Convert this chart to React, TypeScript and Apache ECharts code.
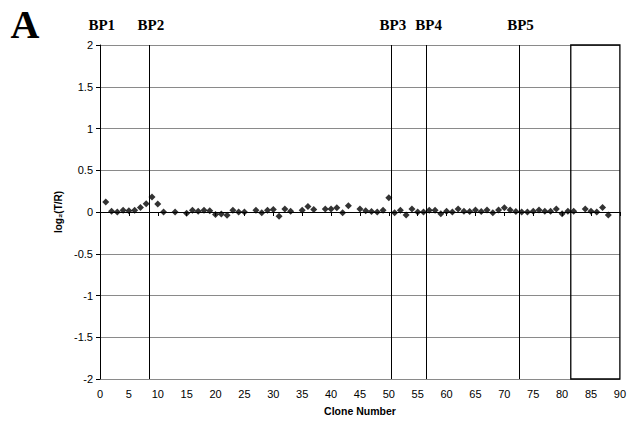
import React, { useEffect, useRef } from "react";
import * as echarts from "echarts";

// Clone index and log2(T/R) ratio for each measured clone
const clones = [
  1, 2, 3, 4, 5, 6, 7, 8, 9, 10, 11, 13, 15, 16, 17, 18, 19, 20, 21, 22, 23, 24, 25,
  27, 28, 29, 30, 31, 32, 33, 35, 36, 37, 39, 40, 41, 42, 43, 45, 46, 47, 48, 49, 50,
  51, 52, 53, 54, 55, 56, 57, 58, 59, 60, 61, 62, 63, 64, 65, 66, 67, 68, 69, 70, 71,
  72, 73, 74, 75, 76, 77, 78, 79, 80, 81, 82, 84, 85, 86, 87, 88,
];
const ratios = [
  0.12, 0.01, 0, 0.02, 0.015, 0.02, 0.055, 0.1, 0.18, 0.095, 0, 0, -0.015, 0.02, 0.01,
  0.02, 0.015, -0.03, -0.025, -0.04, 0.02, 0, 0, 0.02, -0.01, 0.02, 0.03, -0.05, 0.035,
  0.01, 0.02, 0.065, 0.03, 0.035, 0.035, 0.05, -0.01, 0.075, 0.035, 0.015, 0.005, 0,
  0.02, 0.17, -0.01, 0.02, -0.035, 0.035, 0, 0, 0.02, 0.02, -0.02, 0.01, 0, 0.035, 0.01,
  0.005, 0.025, 0.005, 0.025, -0.01, 0.025, 0.05, 0.025, 0.005, 0, 0, 0.01, 0.025, 0.01,
  0.01, 0.035, -0.02, 0.01, 0.01, 0.035, 0.01, 0, 0.055, -0.035,
];

// Breakpoint boundaries (between clones) and their labels
const breakpointNames = ["BP1", "BP2", "BP3", "BP4", "BP5"];
const breakpointLabelAt = [0.3, 8.8, 50.7, 56.9, 72.8];
const breakpointLines = [8.5, 50.5, 56.5, 72.5];
const boxedRegion = [81.5, 90];

export default function App() {
  const ref = useRef<HTMLDivElement>(null);

  useEffect(() => {
    if (!ref.current) return;
    const chart = echarts.init(ref.current, null, { renderer: "svg" });
    const sans = "Liberation Sans";

    chart.setOption({
      animation: false,
      backgroundColor: "#fff",
      grid: { left: 100, right: 7, top: 45, bottom: 46 },
      xAxis: {
        type: "value",
        min: 0,
        max: 90,
        interval: 5,
        name: "Clone Number",
        nameLocation: "middle",
        nameGap: 26,
        nameTextStyle: { fontFamily: sans, fontWeight: "bold", fontSize: 10.5, color: "#000" },
        axisLine: { show: true, lineStyle: { color: "#000", width: 1 } },
        axisTick: { show: true, length: 4, lineStyle: { color: "#000" } },
        axisLabel: { fontFamily: sans, fontSize: 11, color: "#000", margin: 9 },
        splitLine: { show: false },
      },
      yAxis: {
        type: "value",
        min: -2,
        max: 2,
        interval: 0.5,
        name: "log₂(T/R)",
        nameLocation: "middle",
        nameGap: 31,
        nameRotate: 90,
        nameTextStyle: { fontFamily: sans, fontWeight: "bold", fontSize: 10, color: "#000" },
        axisLine: { show: true, onZero: false, lineStyle: { color: "#000", width: 1 } },
        axisTick: { show: true, length: 4, lineStyle: { color: "#000" } },
        axisLabel: { fontFamily: sans, fontSize: 11, color: "#000", margin: 7 },
        splitLine: { show: true, lineStyle: { color: "#8a8a8a", width: 1 } },
      },
      series: [
        {
          type: "scatter",
          symbol: "diamond",
          symbolSize: 7,
          itemStyle: { color: "#000" },
          data: clones.map((c, i) => [c, ratios[i]]),
          markLine: {
            silent: true,
            symbol: "none",
            label: { show: false },
            lineStyle: { color: "#000", width: 1, type: "solid" },
            data: breakpointLines.map((x) => ({ xAxis: x })),
          },
          markArea: {
            silent: true,
            itemStyle: { color: "rgba(0,0,0,0)", borderColor: "#000", borderWidth: 1.3 },
            data: [[{ xAxis: boxedRegion[0], yAxis: 2 }, { xAxis: boxedRegion[1], yAxis: -2 }]],
          },
        },
      ],
    });

    const labelY = 25;
    const graphics: any[] = breakpointNames.map((name, i) => {
      const px = chart.convertToPixel({ gridIndex: 0 }, [breakpointLabelAt[i], 0]) as number[];
      return {
        type: "text",
        x: px[0],
        y: labelY,
        style: {
          text: name,
          font: "bold 15px 'Liberation Serif'",
          fill: "#000",
          align: "center",
          verticalAlign: "middle",
        },
      };
    });
    graphics.push({
      type: "text",
      x: 25,
      y: 24,
      style: {
        text: "A",
        font: "bold 40px 'Liberation Serif'",
        fill: "#000",
        align: "center",
        verticalAlign: "middle",
      },
    });
    chart.setOption({ graphic: graphics });

    return () => chart.dispose();
  }, []);

  return (
    <div
      ref={ref}
      style={{ position: "fixed", left: 0, top: 0, width: 629, height: 425 }}
    />
  );
}
